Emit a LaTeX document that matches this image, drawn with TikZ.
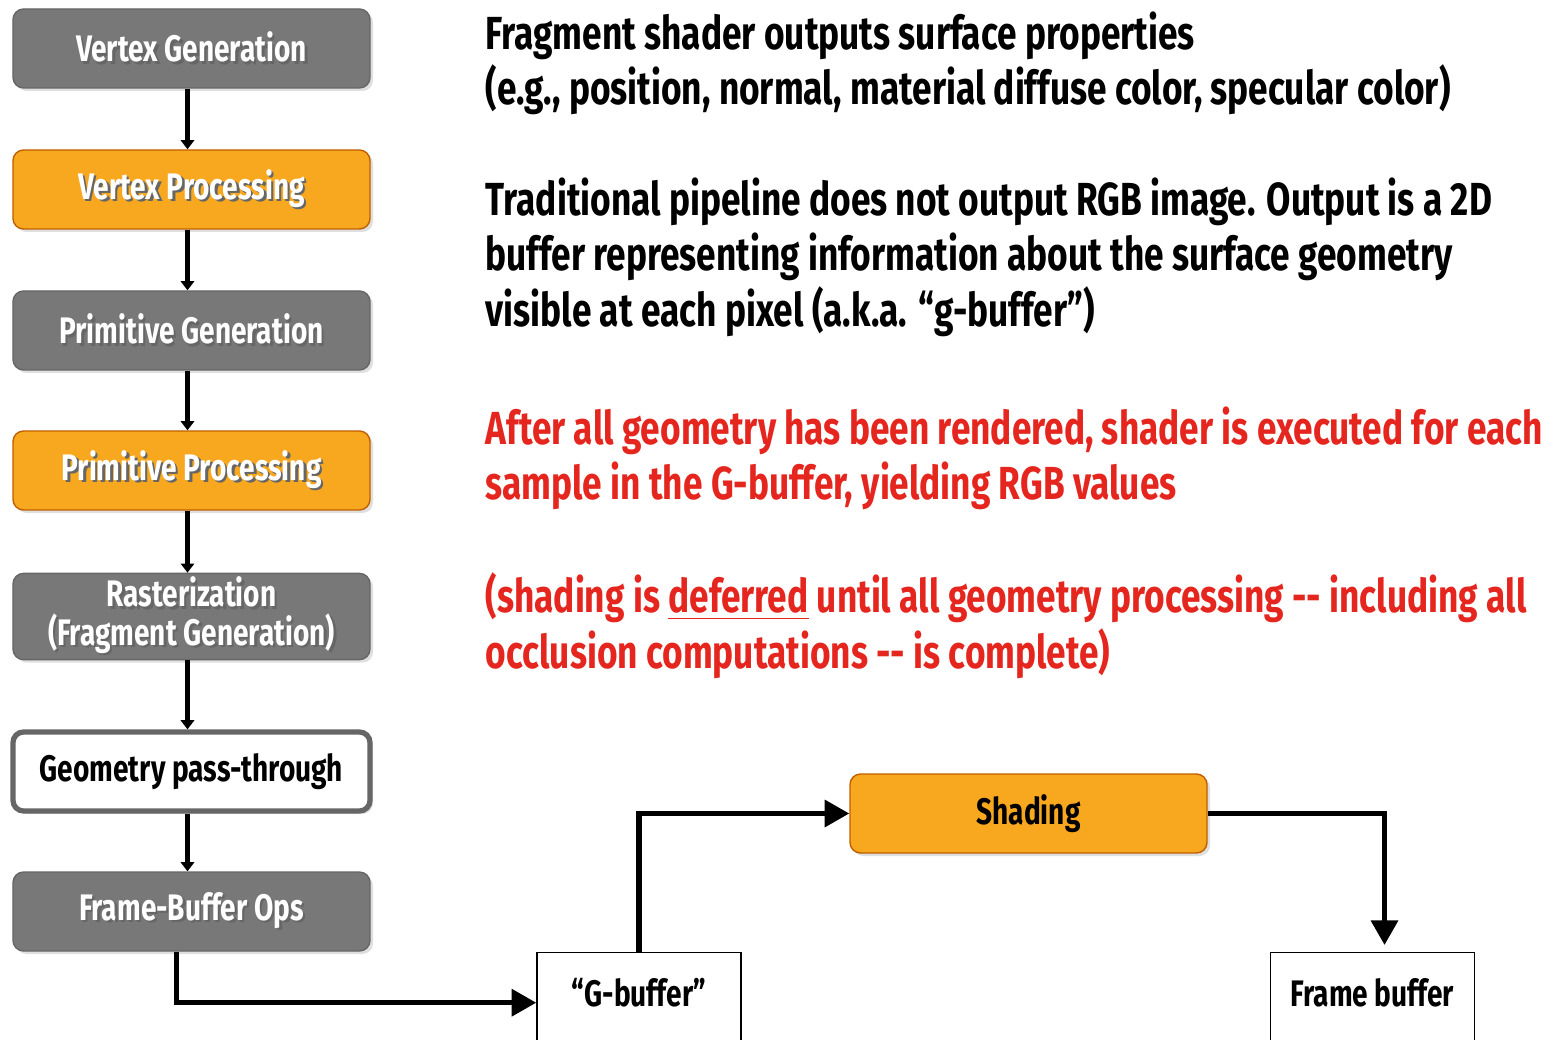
\documentclass[tikz,border=0pt]{standalone}
\usepackage{fontspec}
\setmainfont{Fira Sans}[FakeStretch=0.76]
\usepackage{tikz}
\usetikzlibrary{arrows.meta,shadows}

\definecolor{stagegray}{HTML}{787878}
\definecolor{stageorange}{HTML}{F7A81E}
\definecolor{notered}{HTML}{E5261F}

% white label with a small drop shadow
\newcommand{\shtext}[1]{\makebox[0pt][l]{\hspace{0.7pt}\raisebox{-0.7pt}{\textcolor{black!60}{#1}}}#1}

\tikzset{
	stage/.style={rounded corners=3pt, minimum width=3.57cm, minimum height=0.79cm,
		align=center, font=\bfseries\fontsize{10.5}{12.5}\selectfont,
		drop shadow={shadow xshift=0.03cm, shadow yshift=-0.03cm, opacity=0.25}},
	graystage/.style={stage, fill=stagegray, draw=black!60, text=white},
	orangestage/.style={stage, fill=stageorange, draw=orange!75!black, text=white},
	passstage/.style={stage, fill=white, draw=black!60, line width=1.5pt, text=black},
	bufbox/.style={draw=black, thin, fill=white, minimum width=2.04cm, minimum height=1.0cm,
		text height=8pt, text depth=6pt,
		anchor=north, font=\bfseries\fontsize{10.5}{12.5}\selectfont},
	note/.style={anchor=north west, align=left, inner sep=0pt,
		font=\bfseries\fontsize{13.2}{15.8}\selectfont},
	pipe/.style={line width=1.6pt, -{Triangle[width=3.8pt,length=2.6pt]}},
	flow/.style={line width=1.5pt, -{Triangle[width=7.5pt,length=7pt]}}
}

\begin{document}
\begin{tikzpicture}
	\useasboundingbox (0,0) rectangle (15.54,-10.40);

	% Pipeline stages
	\node[graystage] (vgen) at (1.915,-0.485) {\shtext{Vertex Generation}};
	\node[orangestage] (vproc) at (1.915,-1.895) {\shtext{Vertex Processing}};
	\node[graystage] (pgen) at (1.915,-3.305) {\shtext{Primitive Generation}};
	\node[orangestage] (pproc) at (1.915,-4.705) {\shtext{Primitive Processing}};
	\node[graystage, inner ysep=1pt, minimum height=0.81cm] (rast) at (1.915,-6.165)
		{\shtext{Rasterization}\\[-1.5pt]\shtext{(Fragment Generation)}};
	\node[passstage] (geom) at (1.915,-7.715) {Geometry pass-through};
	\node[graystage] (fbops) at (1.915,-9.115) {\shtext{Frame-Buffer Ops}};

	\draw[pipe] ([xshift=-0.04cm]vgen.south) -- ([xshift=-0.04cm]vproc.north);
	\draw[pipe] ([xshift=-0.04cm]vproc.south) -- ([xshift=-0.04cm]pgen.north);
	\draw[pipe] ([xshift=-0.04cm]pgen.south) -- ([xshift=-0.04cm]pproc.north);
	\draw[pipe] ([xshift=-0.04cm]pproc.south) -- ([xshift=-0.04cm]rast.north);
	\draw[pipe] ([xshift=-0.04cm]rast.south) -- ([xshift=-0.04cm]geom.north);
	\draw[pipe] ([xshift=-0.04cm]geom.south) -- ([xshift=-0.04cm]fbops.north);

	% Deferred shading
	\node[bufbox] (gbuf) at (6.39,-9.52) {“G-buffer”};
	\node[orangestage, text=black] (shade) at (10.285,-8.135) {Shading};
	\node[bufbox] (fbuf) at (13.725,-9.52) {Frame buffer};

	\draw[flow] ([xshift=-0.15cm]fbops.south) |- (gbuf.west);
	\draw[flow] (gbuf.north) |- (shade.west);
	\draw[flow] (shade.east) -| ([xshift=0.12cm,yshift=0.07cm]fbuf.north);

	% Notes
	\node[note] (frag) at (4.85,-0.11) {Fragment shader outputs surface properties\\(e.g., position, normal, material diffuse color, specular color)};
	\node[note] (trad) at (4.85,-1.77) {Traditional pipeline does not output RGB image. Output is a 2D\\buffer representing information about the surface geometry\\visible at each pixel (a.k.a. “g-buffer”)};
	\node[note, text=notered] (after) at (4.85,-4.06) {After all geometry has been rendered, shader is executed for each\\sample in the G-buffer, yielding RGB values};
	\node[note, text=notered] (defer) at (4.85,-5.72) {(shading is \underline{deferred} until all geometry processing -{}- including all\\occlusion computations -{}- is complete)};
\end{tikzpicture}
\end{document}
